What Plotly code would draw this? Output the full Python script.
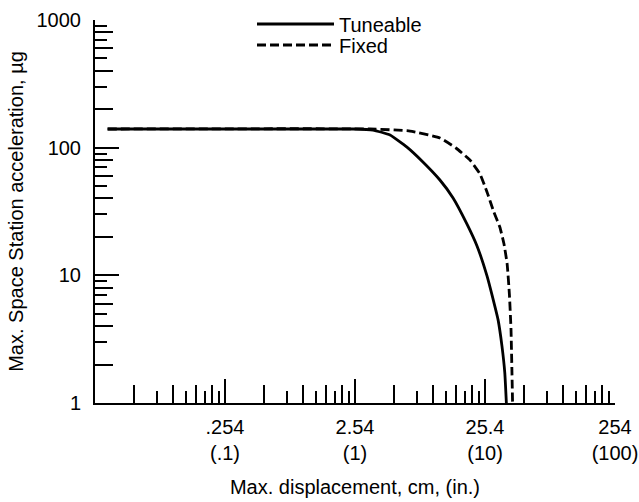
import plotly.graph_objects as go

# ---- data (x in inches, y in micro-g) ----
tune_x = [0.0125, 0.5, 0.965, 1.375, 1.86, 2.51, 3.33, 4.5, 5.68, 7.27, 8.68,
          10.36, 11.5, 12.6, 13.5, 14.2, 14.6]
tune_y = [140, 140, 140, 137.5, 125.6, 101, 77.3, 55.8, 40.4, 25.2, 17.0,
          9.9, 6.6, 4.5, 2.8, 1.72, 1.0]

fixed_x = [0.0125, 1.3, 2.65, 4.5, 5.98, 7.66, 9.15, 10.36, 11.7, 13.0, 14.0,
           14.8, 15.4, 15.85, 16.1, 16.3]
fixed_y = [140, 140, 135, 119, 99.4, 80, 62.2, 45, 31.3, 23.9, 17.6,
           12.3, 7.14, 3.8, 1.85, 1.0]

x_tickvals = [0.1, 1, 10, 100]
x_ticktext = [".254<br>(.1)", "2.54<br>(1)", "25.4<br>(10)", "254<br>(100)"]
y_tickvals = [1, 10, 100, 1000]
y_ticktext = ["1", "10", "100", "1000"]

decades_x = [0.01, 0.1, 1, 10]
decades_y = [1, 10, 100]
x_even = [d * m for d in decades_x for m in (2, 4, 6, 8)]
x_odd = [d * m for d in decades_x for m in (3, 5, 7, 9)]
y_even = [d * m for d in decades_y for m in (2, 4, 6, 8)]
y_odd = [d * m for d in decades_y for m in (3, 5, 7, 9)]

FONT = "Liberation Sans, Arial, Helvetica, sans-serif"
FS = 20

fig = go.Figure()
fig.add_trace(go.Scatter(x=tune_x, y=tune_y, mode="lines", name="Tuneable", legend="legend",
                         line=dict(color="black", width=2.8, shape="spline", smoothing=0.4),
                         hoverinfo="skip"))
fig.add_trace(go.Scatter(x=fixed_x, y=fixed_y, mode="lines", name="Fixed", legend="legend2",
                         line=dict(color="black", width=2.8, dash="9px,4px",
                                   shape="spline", smoothing=0.4),
                         hoverinfo="skip"))
# helper trace for overlay axes carrying the short (odd) ticks
fig.add_trace(go.Scatter(x=[], y=[], xaxis="x2", yaxis="y2", showlegend=False, hoverinfo="skip"))

common = dict(type="log", showgrid=False, zeroline=False, ticks="inside",
              tickcolor="black", tickwidth=1.5, color="black",
              tickfont=dict(family=FONT, size=FS, color="black"))

leg_common = dict(xanchor="left", yanchor="middle", itemwidth=77,
                  bgcolor="rgba(0,0,0,0)", font=dict(family=FONT, size=FS, color="black"),
                  borderwidth=0)

fig.update_layout(
    width=639, height=502,
    margin=dict(l=95, r=24, t=20, b=99, autoexpand=False),
    paper_bgcolor="white", plot_bgcolor="white",
    font=dict(family=FONT, size=FS, color="black"),
    xaxis=dict(**common, range=[-2, 2], tickmode="array", tickvals=x_tickvals,
               ticktext=x_ticktext, ticklen=24, showline=True, linecolor="black",
               linewidth=2, anchor="y", ticklabelstandoff=5,
               minor=dict(tickmode="array", tickvals=x_even, ticks="inside",
                          ticklen=18, tickwidth=1.5, tickcolor="black", showgrid=False),
               title=dict(text="Max. displacement, cm, (in.)", standoff=17,
                          font=dict(family=FONT, size=FS))),
    yaxis=dict(**common, range=[0, 3], tickmode="array", tickvals=y_tickvals,
               ticktext=y_ticktext, ticklen=24, showline=True, linecolor="black",
               linewidth=2, anchor="x", ticklabelstandoff=8,
               minor=dict(tickmode="array", tickvals=y_even, ticks="inside",
                          ticklen=18, tickwidth=1.5, tickcolor="black", showgrid=False),
               title=dict(text="Max. Space Station acceleration, \u00b5g", standoff=8,
                          font=dict(family=FONT, size=FS))),
    xaxis2=dict(type="log", range=[-2, 2], overlaying="x", anchor="y2", side="bottom",
                tickmode="array", tickvals=x_odd, ticks="inside", ticklen=12,
                tickwidth=1.5, tickcolor="black", showticklabels=False,
                showline=False, showgrid=False, zeroline=False),
    yaxis2=dict(type="log", range=[0, 3], overlaying="y", anchor="x2", side="left",
                tickmode="array", tickvals=y_odd, ticks="inside", ticklen=12,
                tickwidth=1.5, tickcolor="black", showticklabels=False,
                showline=False, showgrid=False, zeroline=False),
    legend=dict(**leg_common, x=(252 - 95) / 520, y=(403 - 24) / 383),
    legend2=dict(**leg_common, x=(252 - 95) / 520, y=(403 - 45) / 383),
    showlegend=True,
)

fig.write_html("out.html", config={"displayModeBar": False},
               post_script="document.body.style.margin='0';")
